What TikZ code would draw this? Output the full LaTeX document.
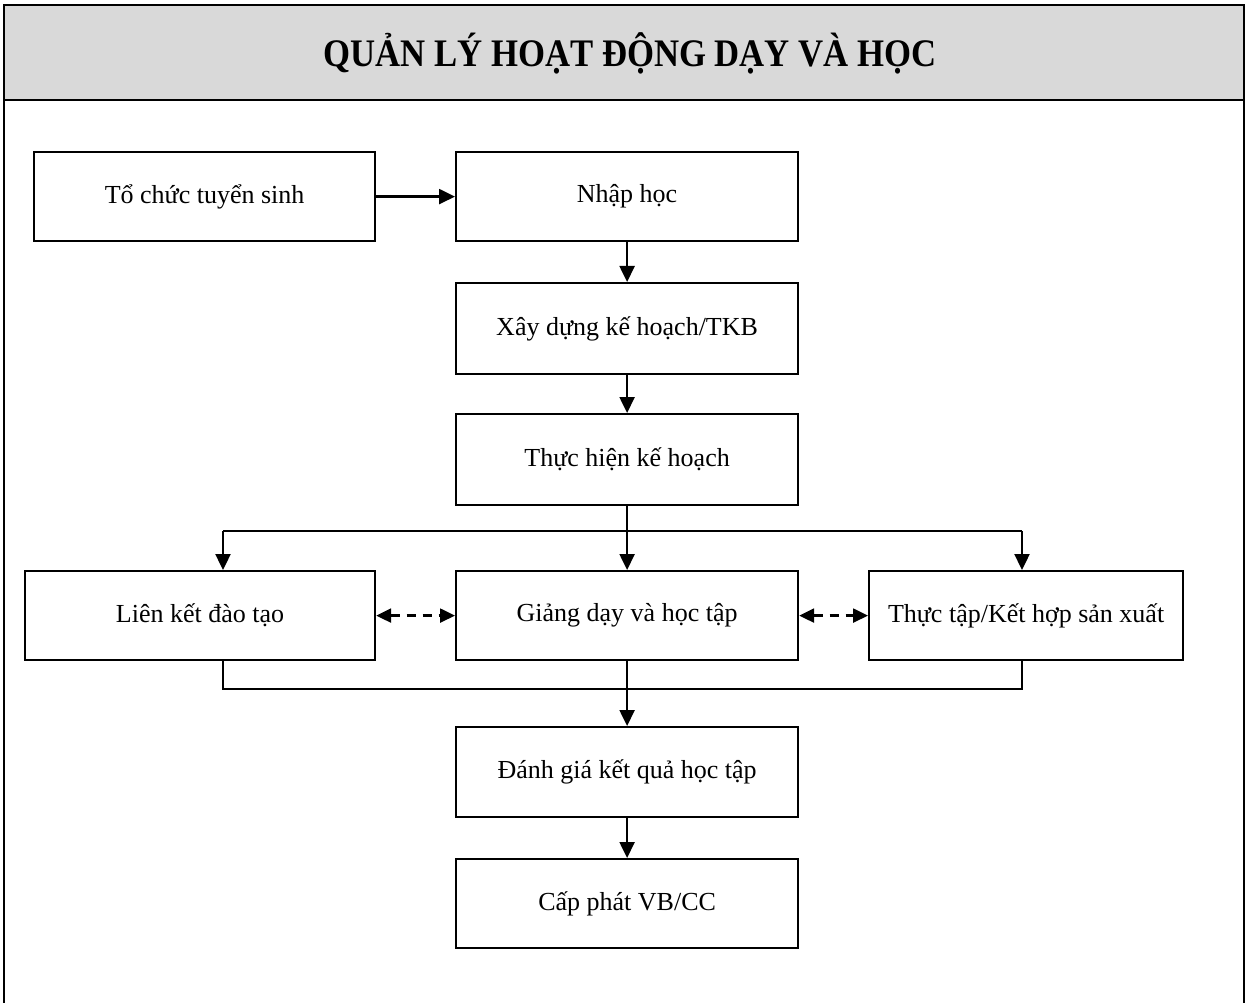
\documentclass[tikz,border=0pt]{standalone}
\usepackage{fontspec}
\setmainfont{Liberation Serif}
\usetikzlibrary{arrows.meta}
\definecolor{bandgray}{HTML}{D9D9D9}
\begin{document}
\begin{tikzpicture}[x=1pt,y=-1pt,
  stepbox/.style={draw, line width=2.2pt, minimum width=342pt, minimum height=89pt,
    inner sep=0pt, font=\fontsize{26}{30}\selectfont, anchor=north west},
  flow/.style={line width=2.4pt, -{Triangle[length=16pt,width=15pt]}},
  link/.style={line width=2.4pt, dash pattern=on 9pt off 7pt,
    {Triangle[length=15pt,width=14pt]}-{Triangle[length=15pt,width=14pt]}},
  mergeline/.style={line width=1.4pt}]
\useasboundingbox (0,0) rectangle (1248,1003);
% title band and frame
\fill[bandgray] (4,5) rectangle (1244,100);
\draw[line width=2.2pt] (4,1003) -- (4,5) -- (1244,5) -- (1244,1003);
\draw[line width=2.2pt] (4,100) -- (1244,100);
\node[font=\fontsize{39}{45}\selectfont\bfseries, xscale=0.89] (title) at (630,53) {QUẢN LÝ HOẠT ĐỘNG DẠY VÀ HỌC};
% boxes
\node[stepbox, minimum width=341pt] (ts) at (33,151) {Tổ chức tuyển sinh};
\node[stepbox] (nh) at (455,151) {Nhập học};
\node[stepbox, minimum height=91pt] (xd) at (455,282) {Xây dựng kế hoạch/TKB};
\node[stepbox, minimum height=91pt] (th) at (455,413) {Thực hiện kế hoạch};
\node[stepbox, minimum width=350pt] (lk) at (24,570) {Liên kết đào tạo};
\node[stepbox] (gd) at (455,570) {Giảng dạy và học tập};
\node[stepbox, minimum width=314pt] (tt) at (868,570) {Thực tập/Kết hợp sản xuất};
\node[stepbox, minimum height=90pt] (dg) at (455,726) {Đánh giá kết quả học tập};
\node[stepbox] (cp) at (455,858) {Cấp phát VB/CC};
% branch and merge points
\coordinate (bl) at (223,531);
\coordinate (br) at (1022,531);
\coordinate (jl) at (223,689);
\coordinate (jr) at (1022,689);
% connectors
\draw[flow] (ts.east) -- (nh.west);
\draw[flow] (nh.south) -- (xd.north);
\draw[flow] (xd.south) -- (th.north);
\draw[flow] (th.south) -- (gd.north);
\draw[line width=2.2pt] (bl) -- (br);
\draw[flow] (bl) -- (bl |- lk.north);
\draw[flow] (br) -- (br |- tt.north);
\draw[link] (lk.east) -- (gd.west);
\draw[link] (gd.east) -- (tt.west);
\draw[mergeline] (jl |- lk.south) -- (jl) -- (jr) -- (jr |- tt.south);
\draw[flow] (gd.south) -- (dg.north);
\draw[flow] (dg.south) -- (cp.north);
\end{tikzpicture}
\end{document}
